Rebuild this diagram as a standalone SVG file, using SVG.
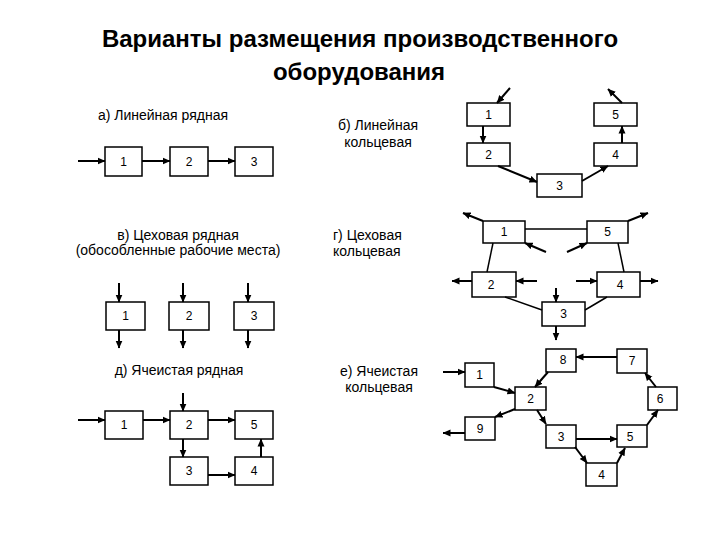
<svg xmlns="http://www.w3.org/2000/svg" width="720" height="540" viewBox="0 0 720 540">
<defs>
<marker id="ah" viewBox="0 0 8 8" refX="7.5" refY="4" markerWidth="8" markerHeight="8" orient="auto" markerUnits="userSpaceOnUse"><path d="M0,0.5 L8,4 L0,7.5 z" fill="#000"/></marker>
</defs>
<style>
text{font-family:"Liberation Sans",Arial,sans-serif;fill:#000}
.t{font-size:24px;font-weight:bold;text-anchor:middle}
.l{font-size:14px}
.c{text-anchor:middle}
.n{font-size:12px;text-anchor:middle}
rect{fill:#fff;stroke:#000;stroke-width:1.5}
.a line{stroke:#000;stroke-width:2;marker-end:url(#ah)}
.p line{stroke:#000;stroke-width:1.5}
</style>
<rect x="0" y="0" width="720" height="540" style="fill:#fff;stroke:none"/>
<text class="t" x="360" y="47">Варианты размещения производственного</text>
<text class="t" x="359" y="80">оборудования</text>

<text class="l c" x="163" y="120">а) Линейная рядная</text>
<text class="l c" x="378" y="130">б) Линейная</text>
<text class="l c" x="378" y="147">кольцевая</text>
<text class="l c" x="178" y="240">в) Цеховая рядная</text>
<text class="l c" x="178" y="255">(обособленные рабочие места)</text>
<text class="l" x="333" y="240">г) Цеховая</text>
<text class="l" x="333" y="256">кольцевая</text>
<text class="l c" x="179" y="375">д) Ячеистая рядная</text>
<text class="l c" x="379" y="376">е) Ячеистая</text>
<text class="l c" x="379" y="392">кольцевая</text>

<g id="a1"><rect x="105" y="147" width="37" height="29"/><text class="n" x="123.5" y="166">1</text></g>
<g id="a2"><rect x="170" y="147" width="38" height="29"/><text class="n" x="189" y="166">2</text></g>
<g id="a3"><rect x="235" y="147" width="38" height="29"/><text class="n" x="254" y="166">3</text></g>

<g id="b1"><rect x="467" y="103" width="43" height="23"/><text class="n" x="488.5" y="119">1</text></g>
<g id="b5"><rect x="594" y="103" width="43" height="23"/><text class="n" x="615.5" y="119">5</text></g>
<g id="b2"><rect x="467" y="143" width="43" height="23"/><text class="n" x="488.5" y="159">2</text></g>
<g id="b4"><rect x="594" y="143" width="43" height="23"/><text class="n" x="615.5" y="159">4</text></g>
<g id="b3"><rect x="537" y="174" width="45" height="23"/><text class="n" x="559.5" y="190">3</text></g>

<g id="c1"><rect x="106" y="302" width="39" height="28"/><text class="n" x="125.5" y="320">1</text></g>
<g id="c2"><rect x="169" y="302" width="40" height="28"/><text class="n" x="189" y="320">2</text></g>
<g id="c3"><rect x="234" y="302" width="40" height="28"/><text class="n" x="254" y="320">3</text></g>

<g id="g1"><rect x="483" y="221" width="42" height="22"/><text class="n" x="504" y="236">1</text></g>
<g id="g5"><rect x="587" y="221" width="41" height="22"/><text class="n" x="607.5" y="236">5</text></g>
<g id="g2"><rect x="472" y="272" width="44" height="25"/><text class="n" x="491" y="289">2</text></g>
<g id="g4"><rect x="597" y="272" width="43" height="25"/><text class="n" x="620" y="289">4</text></g>
<g id="g3"><rect x="542" y="302" width="43" height="24"/><text class="n" x="563.5" y="318">3</text></g>

<g id="d1"><rect x="105" y="411" width="38" height="28"/><text class="n" x="124" y="429">1</text></g>
<g id="d2"><rect x="170" y="411" width="38" height="28"/><text class="n" x="189" y="429">2</text></g>
<g id="d5"><rect x="235" y="411" width="38" height="28"/><text class="n" x="254" y="429">5</text></g>
<g id="d3"><rect x="170" y="457" width="38" height="28"/><text class="n" x="189" y="475">3</text></g>
<g id="d4"><rect x="235" y="457" width="38" height="28"/><text class="n" x="254" y="475">4</text></g>

<g id="e1"><rect x="465" y="363" width="29" height="24"/><text class="n" x="479.5" y="379">1</text></g>
<g id="e8"><rect x="546" y="349" width="30" height="23"/><text class="n" x="563" y="364">8</text></g>
<g id="e7"><rect x="617" y="349" width="30" height="24"/><text class="n" x="632" y="365">7</text></g>
<g id="e2"><rect x="515" y="387" width="31" height="23"/><text class="n" x="530.5" y="403">2</text></g>
<g id="e6"><rect x="648" y="387" width="29" height="23"/><text class="n" x="660" y="403">6</text></g>
<g id="e9"><rect x="465" y="417" width="30" height="23"/><text class="n" x="480" y="433">9</text></g>
<g id="e3"><rect x="546" y="425" width="30" height="23"/><text class="n" x="561" y="441">3</text></g>
<g id="e5"><rect x="617" y="425" width="30" height="22"/><text class="n" x="630" y="441">5</text></g>
<g id="e4"><rect x="586" y="463" width="31" height="23"/><text class="n" x="601.5" y="479">4</text></g>

<g id="connectors">
<g class="a">
<line x1="78" y1="161" x2="105" y2="161"/>
<line x1="142" y1="161" x2="170" y2="161"/>
<line x1="208" y1="161" x2="235" y2="161"/>

<line x1="510" y1="88" x2="497" y2="103"/>
<line x1="622" y1="103" x2="608" y2="89"/>
<line x1="483" y1="126" x2="483" y2="143"/>
<line x1="622" y1="143" x2="622" y2="126"/>
<line x1="498" y1="166" x2="537" y2="182"/>
<line x1="582" y1="181" x2="608" y2="166"/>

<line x1="119" y1="283" x2="119" y2="302"/>
<line x1="183" y1="283" x2="183" y2="302"/>
<line x1="248" y1="283" x2="248" y2="302"/>
<line x1="119" y1="330" x2="119" y2="348"/>
<line x1="183" y1="330" x2="183" y2="348"/>
<line x1="248" y1="330" x2="248" y2="348"/>

<line x1="483" y1="221" x2="463" y2="213"/>
<line x1="628" y1="221" x2="648" y2="213"/>
<line x1="546" y1="252" x2="525" y2="243"/>
<line x1="567" y1="252" x2="587" y2="243"/>
<line x1="472" y1="281" x2="452" y2="281"/>
<line x1="537" y1="281" x2="516" y2="281"/>
<line x1="576" y1="281" x2="597" y2="281"/>
<line x1="640" y1="281" x2="658" y2="281"/>
<line x1="556" y1="288" x2="556" y2="302"/>
<line x1="556" y1="326" x2="556" y2="340"/>

<line x1="78" y1="420" x2="105" y2="420"/>
<line x1="143" y1="420" x2="170" y2="420"/>
<line x1="208" y1="420" x2="235" y2="420"/>
<line x1="183" y1="393" x2="183" y2="411"/>
<line x1="183" y1="439" x2="183" y2="457"/>
<line x1="208" y1="475" x2="235" y2="475"/>
<line x1="261" y1="457" x2="261" y2="439"/>

<line x1="443" y1="372" x2="465" y2="372"/>
<line x1="494" y1="387" x2="515" y2="393"/>
<line x1="548" y1="372" x2="535" y2="387"/>
<line x1="617" y1="357" x2="576" y2="357"/>
<line x1="656" y1="387" x2="645" y2="373"/>
<line x1="647" y1="425" x2="658" y2="410"/>
<line x1="515" y1="409" x2="495" y2="417"/>
<line x1="465" y1="433" x2="443" y2="433"/>
<line x1="537" y1="410" x2="546" y2="424"/>
<line x1="576" y1="439" x2="617" y2="439"/>
<line x1="575" y1="447" x2="587" y2="463"/>
<line x1="617" y1="463" x2="625" y2="448"/>
</g>
<g class="p">
<line x1="525" y1="229" x2="587" y2="229"/>
<line x1="493" y1="243" x2="487" y2="272"/>
<line x1="618" y1="243" x2="624" y2="272"/>
<line x1="505" y1="297" x2="542" y2="310"/>
<line x1="607" y1="297" x2="585" y2="310"/>
</g>
</g>
</svg>
